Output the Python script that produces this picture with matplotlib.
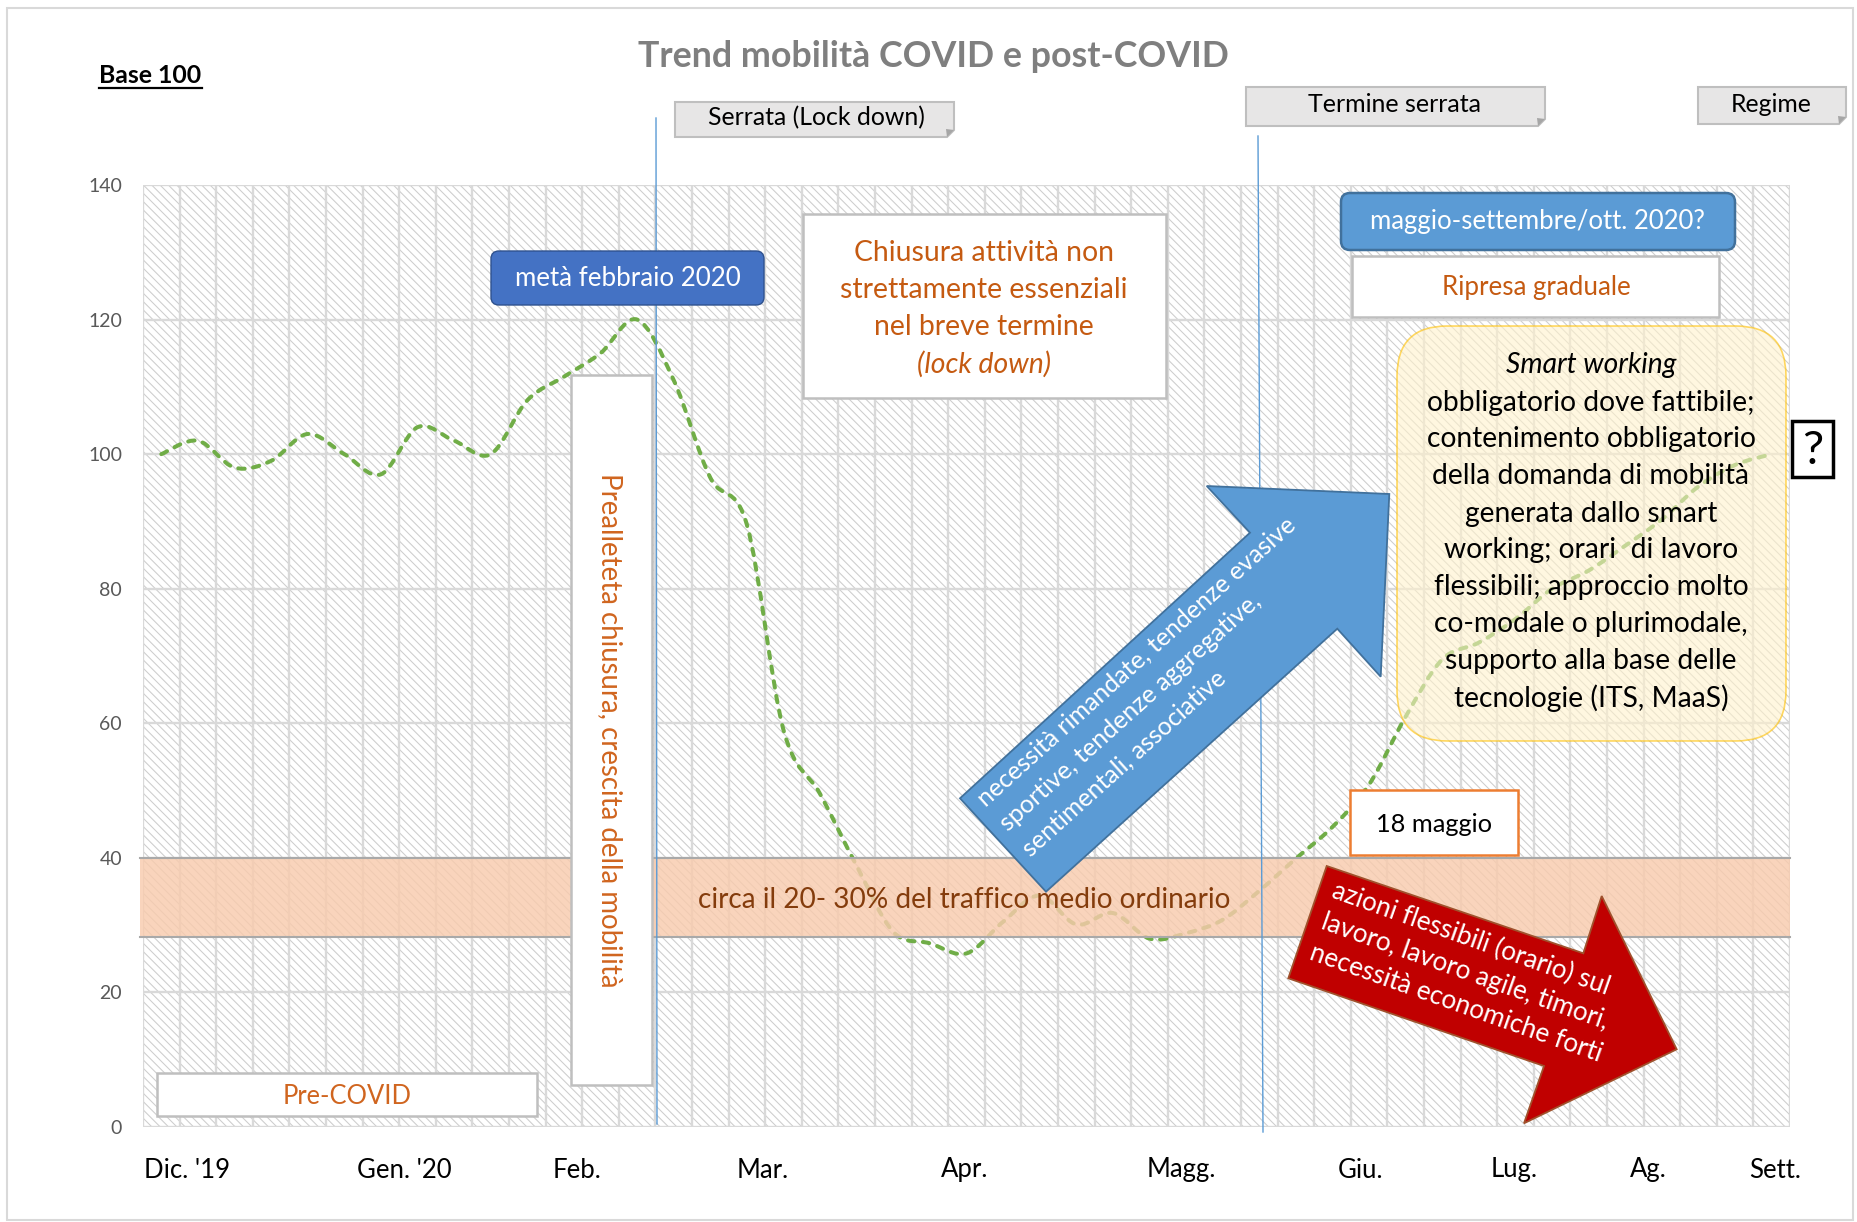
import numpy as np
import matplotlib
matplotlib.use('Agg')
import matplotlib.pyplot as plt
from matplotlib.path import Path
from matplotlib.patches import PathPatch, Rectangle, FancyBboxPatch, Polygon

# ---------------- data ----------------
mobility_index = [100, 102, 98, 99, 103, 100, 97, 104, 102, 100,
                  108, 111.5, 115, 120, 111, 96.5, 89.5, 59, 49.5, 38.8,
                  29, 27.3, 25.8, 30.5, 34.4, 30.1, 31.8, 28, 28.8, 30.8,
                  35.1, 39.9, 44.6, 50.9, 61, 69.5, 72, 75.5, 80, 82.7,
                  86.4, 90.3, 95.2, 98.4, 100]
month_labels = ["Dic. '19", "Gen. '20", "Feb.", "Mar.", "Apr.", "Magg.",
                "Giu.", "Lug.", "Ag.", "Sett."]
month_positions = [0.70, 6.63, 11.36, 16.43, 21.94, 27.87, 32.77, 36.96, 40.62, 44.08]
y_ticks = [0, 20, 40, 60, 80, 100, 120, 140]
band_range = [28.2, 40]

title = "Trend mobilità COVID e post-COVID"
chiusura_lines = ["Chiusura attività non", "strettamente essenziali",
                  "nel breve termine", "(lock down)"]
smart_lines = ["Smart working", "obbligatorio dove fattibile;",
               "contenimento obbligatorio", "della domanda di mobilità",
               "generata dallo smart", "working; orari  di lavoro",
               "flessibili; approccio molto", "co-modale o plurimodale,",
               "supporto alla base delle", "tecnologie (ITS, MaaS)"]
blue_arrow_lines = ["necessità rimandate, tendenze evasive",
                    "sportive, tendenze aggregative,",
                    "sentimentali, associative"]
red_arrow_lines = ["azioni flessibili (orario) sul",
                   "lavoro, lavoro agile, timori,",
                   "necessità economiche forti"]

# ---------------- figure ----------------
plt.rcParams['font.family'] = ['Lato', 'DejaVu Sans']
plt.rcParams['hatch.color'] = '#cdcdcd'
plt.rcParams['hatch.linewidth'] = 0.75

W, H = 1857, 1222
fig = plt.figure(figsize=(W / 100, H / 100), dpi=100)
fig.patch.set_facecolor('white')
R = fig.canvas.get_renderer()

n = len(mobility_index)
ax = fig.add_axes([143 / W, 1 - 1127 / H, (1790 - 143) / W, (1127 - 185) / H])
ax.set_xlim(-0.5, n - 0.5)
ax.set_ylim(0, 140)
for sp in ax.spines.values():
    sp.set_visible(False)
ax.set_facecolor('white')
ax.add_patch(Rectangle((0, 0), 1, 1, transform=ax.transAxes, facecolor='white',
                       edgecolor='#cdcdcd', hatch='\\\\\\\\', lw=0, zorder=0.1))
ax.set_axisbelow(True)
ax.set_xticks(np.arange(-0.5, n, 1), minor=True)
ax.grid(True, which='minor', axis='x', color='#d9d9d9', lw=1.7)
ax.set_yticks(y_ticks)
ax.grid(True, which='major', axis='y', color='#d9d9d9', lw=1.7)
ax.grid(False, which='major', axis='x')

# overlay axes in pixel coordinates
ov = fig.add_axes([0, 0, 1, 1], zorder=5)
ov.set_xlim(0, W)
ov.set_ylim(H, 0)
ov.axis('off')
ov.patch.set_alpha(0)


def fsize(s, target, **kw):
    t = ov.text(0, 0, s, fontsize=20, **kw)
    w = t.get_window_extent(renderer=R).width
    t.remove()
    return 20 * target / w


# tick labels
ysz = fsize("140", 34)
xsz = fsize("Dic. '19", 86)
ax.set_xticks(month_positions, month_labels)
tmp = ov.text(0, 0, "Dic. '19", fontsize=xsz)
lh = tmp.get_window_extent(renderer=R).height
tmp.remove()
pad_px = (1170 - 1127) - lh / 2
ax.tick_params(axis='x', which='major', length=0, pad=pad_px * 0.72, labelsize=xsz,
               labelcolor='black')
ax.tick_params(axis='x', which='minor', length=0)
ax.tick_params(axis='y', length=0, pad=21 * 0.72, labelsize=ysz, labelcolor='#595959')

# smoothed dashed line (Bezier through the data points)
P = np.column_stack([np.arange(n), np.array(mobility_index, dtype=float)])
verts = [tuple(P[0])]
codes = [Path.MOVETO]
for i in range(n - 1):
    p0 = P[i - 1] if i > 0 else P[i]
    p1, p2 = P[i], P[i + 1]
    p3 = P[i + 2] if i + 2 < n else P[i + 1]
    c1 = p1 + (p2 - p0) / 6.0
    c2 = p2 - (p3 - p1) / 6.0
    verts += [tuple(c1), tuple(c2), tuple(p2)]
    codes += [Path.CURVE4] * 3
line = PathPatch(Path(verts, codes), fill=False, edgecolor='#70ad47', lw=2.9,
                 linestyle=(0, (1.6, 2.1)), zorder=3)
line.set_capstyle('round')
ax.add_patch(line)

# orange band
ax.add_patch(Rectangle((-0.002, band_range[0]), 1.002, band_range[1] - band_range[0],
                       transform=ax.get_yaxis_transform(), facecolor='#f8cbad',
                       alpha=0.82, lw=0, zorder=4, clip_on=False))
for yb in band_range:
    ax.plot([-0.002, 1.0], [yb, yb], transform=ax.get_yaxis_transform(),
            color='#a9a9a9', lw=1.5, zorder=4.5, clip_on=False)

# ---------------- annotations ----------------
ov.add_patch(Rectangle((7, 8), 1846, 1212, fill=False, ec='#d9d9d9', lw=1.5))

ov.text(933, 67, title, fontsize=fsize(title, 592, weight='bold'), weight='bold',
        color='#7f7f7f', ha='center', va='baseline')
ov.text(99, 83, "Base 100", fontsize=fsize("Base 100", 103, weight='bold'),
        weight='bold', color='black', ha='left', va='baseline')
ov.plot([99, 202], [88, 88], color='black', lw=1.6)

# vertical phase lines
ov.plot([656, 657], [118, 1124], color='#5b9bd5', lw=1.0, zorder=1)
ov.plot([1258, 1263], [136, 1132], color='#5b9bd5', lw=1.0, zorder=1)


def folded_box(x0, y0, x1, y1, label, target, tx, ty):
    c = 7
    ov.add_patch(Polygon([(x0, y0), (x1, y0), (x1, y1 - c), (x1 - c, y1), (x0, y1)],
                         closed=True, fc='#e7e6e6', ec='#bfbfbf', lw=1.5, zorder=2))
    ov.add_patch(Polygon([(x1, y1 - c), (x1 - c, y1), (x1 - c - 1, y1 - c - 1)],
                         closed=True, fc='#a6a6a6', ec='none', zorder=2))
    ov.text(tx, ty, label, fontsize=fsize(label, target), color='black',
            ha='center', va='center', zorder=3)


folded_box(675, 102, 954, 137, "Serrata (Lock down)", 218, 816, 118)
folded_box(1246, 87, 1545, 126, "Termine serrata", 174, 1394, 105)
folded_box(1698, 87, 1846, 124, "Regime", 81, 1771, 104)

# metà febbraio box
ov.add_patch(FancyBboxPatch((491, 251), 273, 54, boxstyle='round,pad=0,rounding_size=8',
                            fc='#4472c4', ec='#2f528f', lw=1.0, zorder=2))
ov.text(628, 279, "metà febbraio 2020", fontsize=fsize("metà febbraio 2020", 226),
        color='white', ha='center', va='center', zorder=3)

# Chiusura box
ov.add_patch(Rectangle((803, 214), 363, 184, fc='white', ec='#bfbfbf', lw=1.8, zorder=2))
csz = fsize(chiusura_lines[1], 287)
for s, yy in zip(chiusura_lines, [253, 290, 327, 364]):
    ov.text(984, yy, s, fontsize=csz, color='#c55a11', ha='center', va='center',
            style='italic' if s.startswith('(') else 'normal', zorder=3)

# Prealleteta vertical box
ov.add_patch(Rectangle((571, 375), 81, 710, fc='white', ec='#bfbfbf', lw=1.8, zorder=2))
pl = "Prealleteta chiusura, crescita della mobilità"
ov.text(610, 730, pl, fontsize=fsize(pl, 516), color='#d0651f', rotation=-90,
        ha='center', va='center', rotation_mode='anchor', zorder=3)

# Pre-COVID box
ov.add_patch(Rectangle((157, 1073), 380, 43, fc='white', ec='#bfbfbf', lw=1.8, zorder=2))
ov.text(347, 1096, "Pre-COVID", fontsize=fsize("Pre-COVID", 129), color='#d0651f',
        ha='center', va='center', zorder=3)

# band text
bt = "circa il 20- 30% del traffico medio ordinario"
ov.text(964, 900, bt, fontsize=fsize(bt, 533), color='#843c0c', ha='center',
        va='center', zorder=3)

# blue arrow
blue_arrow = [(960, 798.3), (1250, 532.7), (1206.7, 486), (1389.3, 494),
              (1380.7, 676.7), (1337.3, 628.7), (1046, 891.7)]
ov.add_patch(Polygon(blue_arrow, closed=True, fc='#5b9bd5', ec='#41719c', lw=1.3, zorder=2))
bsz = fsize(blue_arrow_lines[0], 422)
ang = np.deg2rad(42)
perp = np.array([np.sin(ang), np.cos(ang)])
start = np.array([981, 802])
for k, s in enumerate(blue_arrow_lines):
    px, py = start + k * 33.5 * perp
    ov.text(px, py, s, fontsize=bsz, color='white', rotation=42, rotation_mode='anchor',
            ha='left', va='center', zorder=3)

# red arrow
red_arrow = [(1326.7, 866), (1583.3, 953.3), (1601.7, 896), (1676.7, 1049.3),
             (1524, 1123.3), (1544, 1066), (1288.3, 978.3)]
ov.add_patch(Polygon(red_arrow, closed=True, fc='#c00000', ec='#a0522d', lw=1.3, zorder=2))
rsz = fsize(red_arrow_lines[0], 293)
ang = np.deg2rad(19.5)
perp = np.array([-np.sin(ang), np.cos(ang)])
start = np.array([1333, 890])
for k, s in enumerate(red_arrow_lines):
    px, py = start + k * 33 * perp
    ov.text(px, py, s, fontsize=rsz, color='white', rotation=-19.5, rotation_mode='anchor',
            ha='left', va='center', zorder=3)

# maggio-settembre box
ms = "maggio-settembre/ott. 2020?"
ov.add_patch(FancyBboxPatch((1341, 193), 394, 57, boxstyle='round,pad=0,rounding_size=9',
                            fc='#5b9bd5', ec='#41719c', lw=1.8, zorder=2))
ov.text(1537, 222, ms, fontsize=fsize(ms, 336), color='white', ha='center',
        va='center', zorder=3)

# Ripresa graduale
ov.add_patch(Rectangle((1352, 256), 367, 61, fc='white', ec='#bfbfbf', lw=1.8, zorder=2))
ov.text(1536, 288, "Ripresa graduale", fontsize=fsize("Ripresa graduale", 189),
        color='#c55a11', ha='center', va='center', zorder=3)

# Smart working box
ov.add_patch(FancyBboxPatch((1397, 326), 389, 415, boxstyle='round,pad=0,rounding_size=50',
                            fc='#fff2cc', ec='#ffc000', lw=1.2, alpha=0.6, zorder=2))
ssz = fsize(smart_lines[2], 330)
sy = [365.4, 402.5, 439.3, 476, 513.6, 550, 587.5, 624.3, 661.4, 698.2]
for k, (s, yy) in enumerate(zip(smart_lines, sy)):
    ov.text(1591, yy, s, fontsize=ssz, color='black', ha='center', va='center',
            style='italic' if k == 0 else 'normal', zorder=3)

# question mark box
ov.add_patch(Rectangle((1792, 421), 41, 56, fc='white', ec='black', lw=2.5, zorder=2))
ov.text(1812.5, 451, "?", fontsize=34, color='black', ha='center', va='center', zorder=3)

# 18 maggio
ov.add_patch(Rectangle((1350, 790), 168, 65, fc='white', ec='#ed7d31', lw=1.8, zorder=2))
ov.text(1434, 824, "18 maggio", fontsize=fsize("18 maggio", 116), color='black',
        ha='center', va='center', zorder=3)

fig.savefig('out.png', dpi=100, facecolor='white')
